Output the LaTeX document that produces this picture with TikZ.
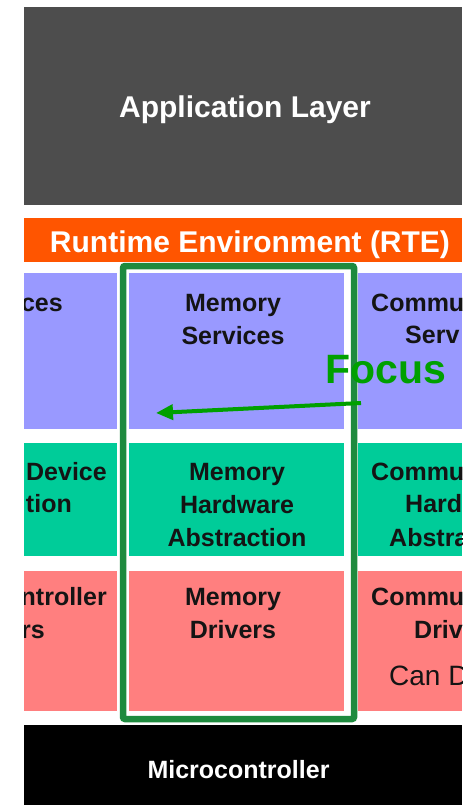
\documentclass[tikz,border=0pt]{standalone}
\usepackage{fontspec}
\setmainfont{Liberation Sans}
\usetikzlibrary{arrows.meta}

\definecolor{appgray}{HTML}{4D4D4D}
\definecolor{rteorange}{HTML}{FF5500}
\definecolor{svcpurple}{HTML}{9999FF}
\definecolor{hwteal}{HTML}{00CC99}
\definecolor{drvred}{HTML}{FF7F7F}
\definecolor{framegreen}{HTML}{1E8A3E}
\definecolor{focusgreen}{HTML}{00A000}
\definecolor{ink}{HTML}{141414}

\tikzset{
  blk/.style={draw=none, inner sep=0pt, outer sep=0pt, anchor=north west},
  lbl/.style={font=\bfseries\fontsize{25}{33}\selectfont, text=ink,
              inner sep=0pt, align=center},
  lblline/.style={font=\bfseries\fontsize{25}{33}\selectfont, text=ink,
              inner sep=0pt},
  bandtext/.style={font=\bfseries\fontsize{30}{36}\selectfont, text=white,
              inner sep=0pt, anchor=base},
}

\begin{document}
\begin{tikzpicture}[x=1pt,y=-1pt]
\useasboundingbox (0,0) rectangle (474,805);
\fill[white] (0,0) rectangle (474,805);

\begin{scope}
\clip (24,0) rectangle (462,805);

% layer bands
\node[blk, fill=appgray, minimum width=438pt, minimum height=198pt] (app) at (24,7) {};
\node[blk, fill=rteorange, minimum width=438pt, minimum height=44pt] (rte) at (24,218) {};
\node[blk, fill=black, minimum width=438pt, minimum height=80pt] (mcu) at (24,725) {};

% service row
\node[blk, fill=svcpurple, minimum width=93pt, minimum height=156pt] (syssrv) at (24,273) {};
\node[blk, fill=svcpurple, minimum width=215pt, minimum height=156pt] (memsrv) at (129,273) {};
\node[blk, fill=svcpurple, minimum width=104pt, minimum height=156pt] (comsrv) at (358,273) {};

% hardware abstraction row
\node[blk, fill=hwteal, minimum width=93pt, minimum height=113pt] (obdabs) at (24,443) {};
\node[blk, fill=hwteal, minimum width=215pt, minimum height=113pt] (memabs) at (129,443) {};
\node[blk, fill=hwteal, minimum width=104pt, minimum height=113pt] (comabs) at (358,443) {};

% driver row
\node[blk, fill=drvred, minimum width=93pt, minimum height=140pt] (mcudrv) at (24,571) {};
\node[blk, fill=drvred, minimum width=215pt, minimum height=140pt] (memdrv) at (129,571) {};
\node[blk, fill=drvred, minimum width=104pt, minimum height=140pt] (comdrv) at (358,571) {};

% band captions
\node[bandtext] (applbl) at (245,118) {Application Layer};
\node[bandtext] (rtelbl) at (250,252) {Runtime Environment (RTE)};
\node[font=\bfseries\fontsize{25}{30}\selectfont, text=white, inner sep=0pt, anchor=base]
  (mculbl) at (238.5,778) {Microcontroller};

% memory stack captions (base = baseline of the last line)
\node[lbl, anchor=base] (memsrvlbl) at (233,344) {Memory\\Services};
\node[lbl, anchor=base] (memabslbl) at (237,546) {Memory\\Hardware\\Abstraction};
\node[lbl, anchor=base] (memdrvlbl) at (233,638) {Memory\\Drivers};

% neighbouring stacks, as far as they are in view
\node[lblline, anchor=base east] (syssrvl1) at (63,311) {ces};
\node[lblline, anchor=base east] (obdabsl1) at (107,480) {Device};
\node[lblline, anchor=base east] (obdabsl2) at (72,512) {tion};
\node[lblline, anchor=base east] (mcudrvl1) at (107,605) {ntroller};
\node[lblline, anchor=base east] (mcudrvl2) at (45,638) {rs};

\node[lblline, anchor=base west] (comsrvl1) at (371,311) {Commu};
\node[lblline, anchor=base west] (comsrvl2) at (405,343.5) {Serv};
\node[lblline, anchor=base west] (comabsl1) at (371,480) {Commu};
\node[lblline, anchor=base west] (comabsl2) at (405,512) {Hard};
\node[lblline, anchor=base west] (comabsl3) at (389,546) {Abstra};
\node[lblline, anchor=base west] (comdrvl1) at (371,605) {Commu};
\node[lblline, anchor=base west] (comdrvl2) at (414,638) {Driv};
\node[font=\fontsize{28}{32}\selectfont, text=ink, inner sep=0pt, anchor=base west]
  (candrv) at (389,685) {Can D};
\end{scope}

% highlighted memory stack
\node[draw=framegreen, line width=6.5pt, rounded corners=2pt, inner sep=0pt,
      outer sep=0pt, minimum width=231pt, minimum height=453pt, anchor=north west]
  (focusbox) at (123,266) {};

\node[font=\bfseries\fontsize{41}{46}\selectfont, text=focusgreen, inner sep=0pt,
      anchor=base west] (focuslbl) at (325,383) {Focus};
\coordinate (tail) at (361,403);
\coordinate (tip) at (156,413);
\draw[focusgreen, line width=4pt, -{Triangle[length=17pt,width=15pt]}] (tail) -- (tip);
\end{tikzpicture}
\end{document}
